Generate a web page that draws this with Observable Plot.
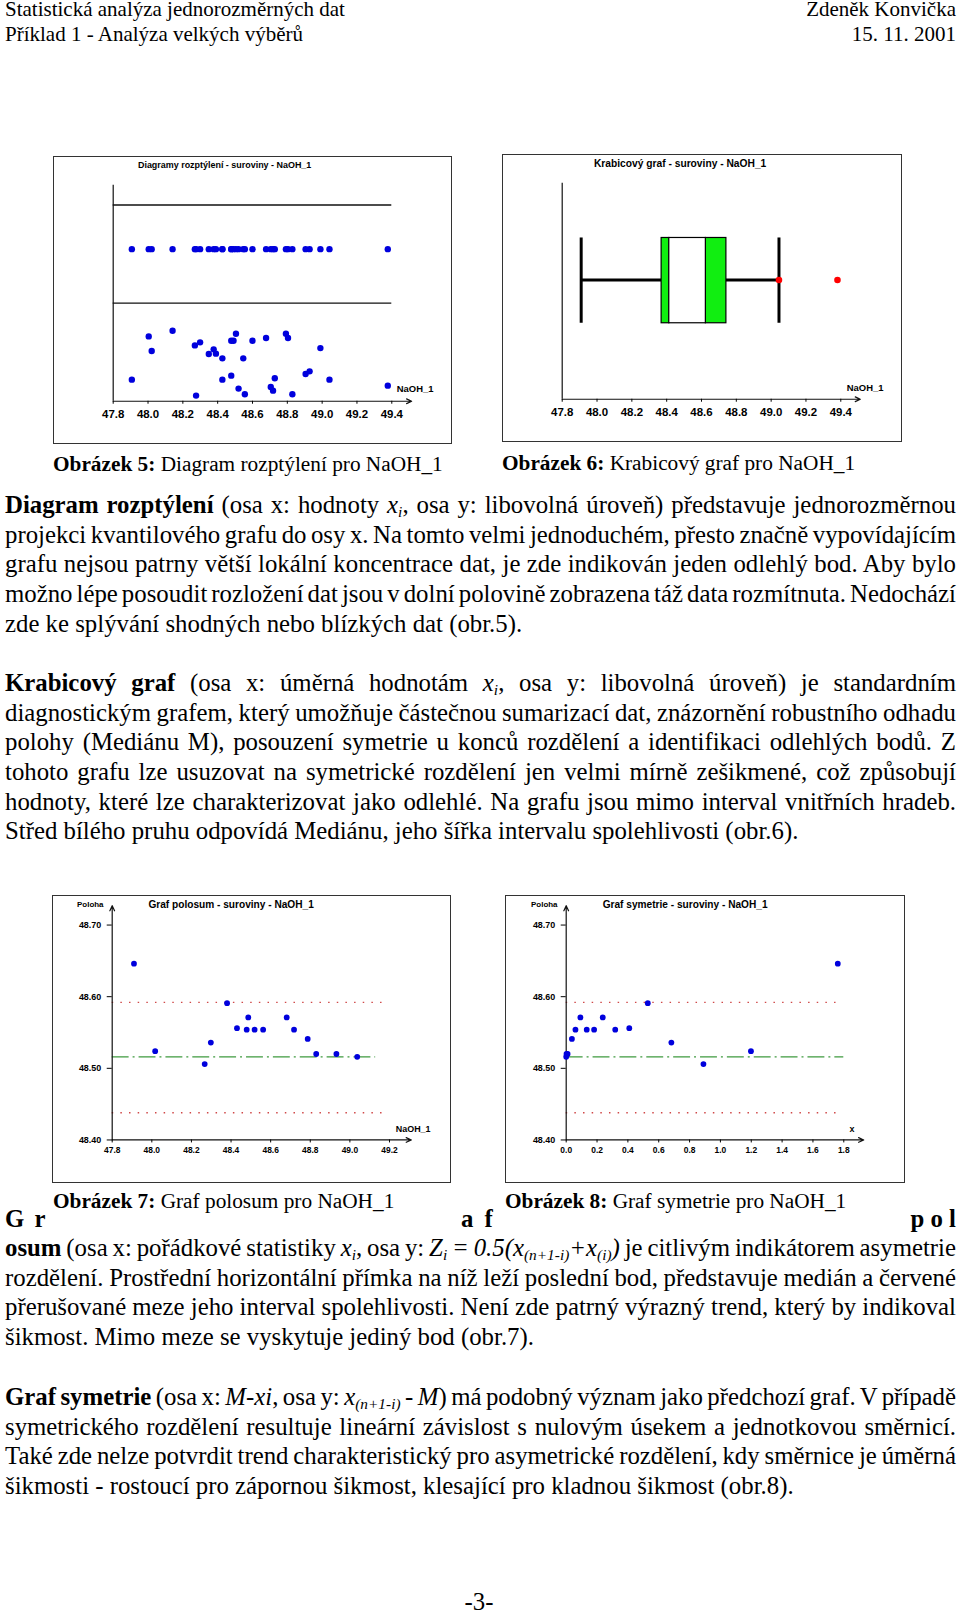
<!DOCTYPE html>
<html><head><meta charset="utf-8">
<script src="https://cdn.jsdelivr.net/npm/d3@7"></script>
<script src="https://cdn.jsdelivr.net/npm/@observablehq/plot@0.6"></script>
<style>
html,body{margin:0;padding:0;background:#fff;}
body{width:960px;height:1613px;position:relative;overflow:hidden;font-family:"Liberation Serif","Times New Roman",serif;color:#000;}
.abs{position:absolute;white-space:nowrap;}
.hdr{font-size:21px;line-height:21px;}
.cap{font-size:21.3px;line-height:26px;}
.para{position:absolute;left:5px;width:951px;font-size:24.8px;line-height:29.7px;}
.para div{white-space:nowrap;height:29.7px;}
.para .j{text-align:justify;text-align-last:justify;word-spacing:-3px;}
sub{font-size:0.62em;vertical-align:-0.28em;line-height:0;}
.frame{position:absolute;border:1px solid #333;box-sizing:border-box;background:#fff;}
.frame svg{position:absolute;left:-1px;top:-1px;}
</style></head>
<body>
<div class="abs hdr" style="left:5px;top:-1px">Statistická analýza jednorozměrných dat</div>
<div class="abs hdr" style="right:4px;top:-1px">Zdeněk Konvička</div>
<div class="abs hdr" style="left:5px;top:24px">Příklad 1 - Analýza velkých výběrů</div>
<div class="abs hdr" style="right:4px;top:24px">15. 11. 2001</div>

<div id="c1" class="frame" style="left:53px;top:156px;width:399px;height:288px"></div>
<div id="c2" class="frame" style="left:502px;top:154px;width:400px;height:288px"></div>
<div class="abs cap" style="left:53px;top:451px"><b>Obrázek 5:</b> Diagram rozptýlení pro NaOH_1</div>
<div class="abs cap" style="left:502px;top:450px"><b>Obrázek 6:</b> Krabicový graf pro NaOH_1</div>

<div id="p1" class="para" style="top:490px"></div>
<div id="p2" class="para" style="top:668px"></div>

<div id="c3" class="frame" style="left:52px;top:895px;width:399px;height:288px"></div>
<div id="c4" class="frame" style="left:505px;top:895px;width:400px;height:288px"></div>
<div class="abs cap" style="left:53px;top:1188px"><b>Obrázek 7:</b> Graf polosum pro NaOH_1</div>
<div class="abs cap" style="left:505px;top:1188px"><b>Obrázek 8:</b> Graf symetrie pro NaOH_1</div>

<div class="abs" style="left:5px;top:1204px;font-size:24.8px;line-height:29.7px;font-weight:bold;word-spacing:4px">G r</div>
<div class="abs" style="left:461px;top:1204px;font-size:24.8px;line-height:29.7px;font-weight:bold;word-spacing:5px">a f</div>
<div class="abs" style="right:4px;top:1204px;font-size:24.8px;line-height:29.7px;font-weight:bold;word-spacing:0px">p o l</div>
<div id="p3" class="para" style="top:1233px"></div>
<div id="p4" class="para" style="top:1382px"></div>

<div class="abs" style="left:479px;top:1587px;transform:translateX(-50%);font-size:24.8px;line-height:29.7px">-3-</div>

<script>
// ---------- data ----------
const naoh = [47.907, 48.004, 48.021, 48.141, 48.269, 48.299, 48.349, 48.377, 48.390, 48.427, 48.478, 48.491, 48.505, 48.547, 48.600, 48.678, 48.792, 48.804, 48.990, 48.427, 48.478, 48.520, 48.556, 48.276, 48.705, 48.718, 48.728, 48.829, 48.905, 48.928, 49.042, 49.377];
const jitter = [0.220, 0.661, 0.512, 0.719, 0.569, 0.600, 0.481, 0.529, 0.485, 0.437, 0.617, 0.617, 0.688, 0.437, 0.617, 0.644, 0.688, 0.644, 0.542, 0.220, 0.261, 0.129, 0.071, 0.058, 0.146, 0.108, 0.234, 0.071, 0.278, 0.305, 0.220, 0.159];
const xTicksNaoh = [47.8, 48.0, 48.2, 48.4, 48.6, 48.8, 49.0, 49.2, 49.4];

const whiskerLow = 47.909, q1 = 48.371, notchLow = 48.415, notchHigh = 48.625, q3 = 48.743, whiskerHigh = 49.045;
const outliers = [49.045, 49.381];

const polosumX = [47.910, 48.017, 48.267, 48.298, 48.380, 48.430, 48.479, 48.487, 48.519, 48.562, 48.681, 48.718, 48.787, 48.830, 48.932, 49.037];
const polosumY = [48.646, 48.524, 48.506, 48.536, 48.591, 48.556, 48.554, 48.571, 48.554, 48.554, 48.571, 48.554, 48.541, 48.520, 48.520, 48.516];
const xTicksPolosum = [47.8, 48.0, 48.2, 48.4, 48.6, 48.8, 49.0, 49.2];

const symX = [0.000, 0.002, 0.009, 0.037, 0.060, 0.092, 0.133, 0.181, 0.237, 0.318, 0.409, 0.529, 0.682, 0.890, 1.198, 1.761];
const symY = [48.516, 48.520, 48.520, 48.541, 48.554, 48.571, 48.554, 48.554, 48.571, 48.554, 48.556, 48.591, 48.536, 48.506, 48.524, 48.646];
const xTicksSym = [0.0, 0.2, 0.4, 0.6, 0.8, 1.0, 1.2, 1.4, 1.6, 1.8];

const yTicksPoloha = [48.40, 48.50, 48.60, 48.70];
const medianLine = 48.516, ciLow = 48.438, ciHigh = 48.592;

// ---------- styles ----------
const sans = "'Liberation Sans', Arial, Helvetica, sans-serif";
const blue = "#0000dd", red = "#ff0000", green = "#11ee11", dotRed = "#d04848", dashGreen = "#3f9a3f";
const fmt1 = d => d.toFixed(1), fmt2 = d => d.toFixed(2);
const txt = d => d;
const base = {style: {fontFamily: sans, background: "transparent", overflow: "visible", color: "#000"}};
const label = (s, o) => Plot.text([s], {text: txt, lineAnchor: "middle", ...o});

// ---------- chart 1: dot strip + jitter ----------
const stripLevel = 1.55;
const c1 = Plot.plot({
  ...base, width: 399, height: 288, marginTop: 29, marginRight: 59, marginBottom: 42, marginLeft: 60,
  x: {domain: [47.8, 49.4], axis: null}, y: {domain: [0, 2.2], axis: null},
  marks: [
    Plot.ruleY([1, 2], {x1: 47.8, x2: 49.4, stroke: "#111", strokeWidth: 1.3}),
    Plot.ruleX([47.8], {y1: 0, y2: 2.2, stroke: "#111", strokeWidth: 1.2}),
    Plot.arrow([0], {x1: 47.8, x2: 49.514, y1: 0, y2: 0, headLength: 7, headAngle: 50, strokeWidth: 1.2, stroke: "#111"}),
    Plot.axisX({ticks: xTicksNaoh, tickFormat: fmt1, tickSize: 3, tickPadding: 6, fontSize: 11.5, fontWeight: "bold", label: null}),
    Plot.dot(naoh, {x: d => d, y: () => stripLevel, r: 3.2, fill: blue}),
    Plot.dot(naoh, {x: d => d, y: (d, i) => jitter[i], r: 3.2, fill: blue}),
    label("Diagramy rozptýlení - suroviny - NaOH_1", {frameAnchor: "top-left", dx: 112, dy: -20, textAnchor: "middle", fontSize: 9, fontWeight: "bold"}),
    label("NaOH_1", {frameAnchor: "bottom-right", dx: 5, dy: -12, textAnchor: "start", fontSize: 9.5, fontWeight: "bold"})
  ]
});
document.getElementById("c1").appendChild(c1);

// ---------- chart 2: notched box plot ----------
const boxMid = 0.552, boxTop = 0.747, boxBottom = 0.352;
const c2 = Plot.plot({
  ...base, width: 400, height: 288, marginTop: 29, marginRight: 60, marginBottom: 42, marginLeft: 60,
  x: {domain: [47.8, 49.4], axis: null}, y: {domain: [0, 1], axis: null},
  marks: [
    Plot.ruleX([47.8], {y1: 0, y2: 1, stroke: "#111", strokeWidth: 1.2}),
    Plot.arrow([0], {x1: 47.8, x2: 49.512, y1: 0, y2: 0, headLength: 7, headAngle: 50, strokeWidth: 1.2, stroke: "#111"}),
    Plot.axisX({ticks: xTicksNaoh, tickFormat: fmt1, tickSize: 3, tickPadding: 6, fontSize: 11.5, fontWeight: "bold", label: null}),
    Plot.ruleY([[whiskerLow, q1], [q3, whiskerHigh]], {x1: d => d[0], x2: d => d[1], y: () => boxMid, stroke: "#000", strokeWidth: 3}),
    Plot.ruleX([whiskerLow, whiskerHigh], {y1: boxBottom, y2: boxTop, stroke: "#000", strokeWidth: 3}),
    Plot.rect([[q1, notchLow], [notchHigh, q3]], {x1: d => d[0], x2: d => d[1], y1: boxBottom, y2: boxTop, fill: green, stroke: "#000", strokeWidth: 1.2}),
    Plot.rect([[notchLow, notchHigh]], {x1: d => d[0], x2: d => d[1], y1: boxBottom, y2: boxTop, fill: "#fff", stroke: "#000", strokeWidth: 1.2}),
    Plot.dot(outliers, {x: d => d, y: () => boxMid, r: 3.3, fill: red}),
    label("Krabicový graf - suroviny - NaOH_1", {frameAnchor: "top-left", dx: 118.5, dy: -20, textAnchor: "middle", fontSize: 10.3, fontWeight: "bold"}),
    label("NaOH_1", {frameAnchor: "bottom-right", dx: 6, dy: -11, textAnchor: "start", fontSize: 9.5, fontWeight: "bold"})
  ]
});
document.getElementById("c2").appendChild(c2);

// ---------- chart 3 & 4 helper ----------
function locationChart({xDomain, xTicks, xArrowEnd, xs, ys, redEnd, greenEnd, title, xLabel, xLabelAnchor, xLabelDx, mL, mR, w}) {
  return Plot.plot({
    ...base, width: w, height: 288, marginTop: 29.7, marginRight: mR, marginBottom: 42.3, marginLeft: mL,
    x: {domain: xDomain, axis: null}, y: {domain: [48.40, 48.70], axis: null},
    marks: [
      Plot.ruleY([ciLow, ciHigh], {x1: xDomain[0], x2: redEnd, stroke: dotRed, strokeWidth: 1.3, strokeDasharray: "1.5,7.2"}),
      Plot.ruleY([medianLine], {x1: xDomain[0], x2: greenEnd, stroke: dashGreen, strokeWidth: 1.2, strokeDasharray: "17,4,2,4"}),
      Plot.arrow([0], {x1: xDomain[0], x2: xDomain[0], y1: 48.40, y2: 48.727, headLength: 7, headAngle: 50, strokeWidth: 1.2, stroke: "#111"}),
      Plot.arrow([0], {x1: xDomain[0], x2: xArrowEnd, y1: 48.40, y2: 48.40, headLength: 7, headAngle: 50, strokeWidth: 1.2, stroke: "#111"}),
      Plot.axisX({ticks: xTicks, tickFormat: fmt1, tickSize: 3, tickPadding: 4, fontSize: 8.5, fontWeight: "bold", label: null}),
      Plot.axisY({ticks: yTicksPoloha, tickFormat: fmt2, tickSize: 5, tickPadding: 6, fontSize: 9, fontWeight: "bold", label: null}),
      Plot.dot(xs, {x: d => d, y: (d, i) => ys[i], r: 2.9, fill: blue}),
      label(title, {frameAnchor: "top-left", dx: 119.5, dy: -20.7, textAnchor: "middle", fontSize: 10.2, fontWeight: "bold"}),
      label("Poloha", {frameAnchor: "top-left", dx: -22, dy: -20.7, textAnchor: "middle", fontSize: 8, fontWeight: "bold"}),
      label(xLabel, {frameAnchor: "bottom-right", dx: xLabelDx, dy: -10.7, textAnchor: xLabelAnchor, fontSize: 9, fontWeight: "bold"})
    ]
  });
}
document.getElementById("c3").appendChild(locationChart({
  xDomain: [47.8, 49.2], xTicks: xTicksPolosum, xArrowEnd: 49.31, xs: polosumX, ys: polosumY,
  redEnd: 49.19, greenEnd: 49.13, title: "Graf polosum - suroviny - NaOH_1",
  xLabel: "NaOH_1", xLabelAnchor: "start", xLabelDx: 6.3, mL: 60, mR: 60.3, w: 399
}));
document.getElementById("c4").appendChild(locationChart({
  xDomain: [0, 1.8], xTicks: xTicksSym, xArrowEnd: 1.929, xs: symX, ys: symY,
  redEnd: 1.768, greenEnd: 1.8, title: "Graf symetrie - suroviny - NaOH_1",
  xLabel: "x", xLabelAnchor: "middle", xLabelDx: 8.3, mL: 61, mR: 60, w: 400
}));

// ---------- text ----------
const xi = "<i>x<sub>i</sub></i>";
const para1 = [
  `<b>Diagram rozptýlení</b> (osa x: hodnoty ${xi}, osa y: libovolná úroveň) představuje jednorozměrnou`,
  "projekci kvantilového grafu do osy x. Na tomto velmi jednoduchém, přesto značně vypovídajícím",
  "grafu nejsou patrny větší lokální koncentrace dat, je zde indikován jeden odlehlý bod. Aby bylo",
  "možno lépe posoudit rozložení dat jsou v dolní polovině zobrazena táž data rozmítnuta. Nedochází",
  "zde ke splývání shodných nebo blízkých dat (obr.5)."
];
const para2 = [
  `<b>Krabicový graf</b> (osa x: úměrná hodnotám ${xi}, osa y: libovolná úroveň) je standardním`,
  "diagnostickým grafem, který umožňuje částečnou sumarizací dat, znázornění robustního odhadu",
  "polohy (Mediánu M), posouzení symetrie u konců rozdělení a identifikaci odlehlých bodů. Z",
  "tohoto grafu lze usuzovat na symetrické rozdělení jen velmi mírně zešikmené, což způsobují",
  "hodnoty, které lze charakterizovat jako odlehlé. Na grafu jsou mimo interval vnitřních hradeb.",
  "Střed bílého pruhu odpovídá Mediánu, jeho šířka intervalu spolehlivosti (obr.6)."
];
const para3 = [
  `<b>osum</b> (osa x: pořádkové statistiky ${xi}, osa y: <i>Z<sub>i</sub> = 0.5(x<sub>(n+1-i)</sub>+x<sub>(i)</sub>)</i> je citlivým indikátorem asymetrie`,
  "rozdělení. Prostřední horizontální přímka na níž leží poslední bod, představuje medián a červené",
  "přerušované meze jeho interval spolehlivosti. Není zde patrný výrazný trend, který by indikoval",
  "šikmost. Mimo meze se vyskytuje jediný bod (obr.7)."
];
const para4 = [
  "<b>Graf symetrie</b> (osa x: <i>M-xi</i>, osa y: <i>x<sub>(n+1-i)</sub> - M</i>) má podobný význam jako předchozí graf. V případě",
  "symetrického rozdělení resultuje lineární závislost s nulovým úsekem a jednotkovou směrnicí.",
  "Také zde nelze potvrdit trend charakteristický pro asymetrické rozdělení, kdy směrnice je úměrná",
  "šikmosti - rostoucí pro zápornou šikmost, klesající pro kladnou šikmost (obr.8)."
];
function fill(id, lines) {
  const el = document.getElementById(id);
  lines.forEach((h, i) => {
    const d = document.createElement("div");
    if (i < lines.length - 1) d.className = "j";
    d.innerHTML = h;
    el.appendChild(d);
  });
}
fill("p1", para1); fill("p2", para2); fill("p3", para3); fill("p4", para4);
</script>
</body></html>
